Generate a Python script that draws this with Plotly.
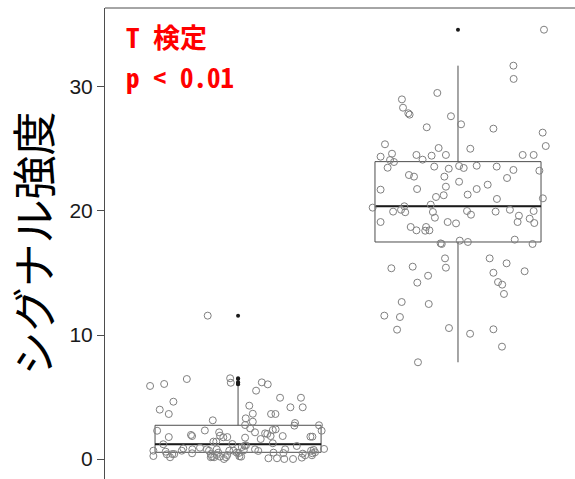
import plotly.graph_objects as go

# Two groups, positioned at x = 1 and x = 2
group_pos = [1, 2]

# Box statistics per group: q1, median, q3 and whisker ends
q1 = [0.54, 17.50]
median = [1.19, 20.38]
q3 = [2.72, 23.98]
whisker_low = [0.00, 7.80]
whisker_high = [5.89, 31.72]
box_width = 0.755

# Group 1 observations: signal value and horizontal jitter offset
g1_values = [
    5.89, 6.05, 6.45, 6.51, 6.15, 6.18, 6.02, 5.51, 4.62, 4.94, 4.94, 4.30, 3.98, 3.63,
    4.17, 4.17, 3.65, 3.63, 3.63, 3.12, 3.28, 3.01, 2.74, 2.90, 2.69, 2.72, 11.56,
    2.28, 2.30, 2.15, 1.88, 1.75, 1.77, 2.47, 2.15, 2.07, 2.02, 1.85, 2.34, 2.39, 1.61,
    1.85, 1.72, 1.80, 1.80, 2.28, 1.77, 1.94, 1.85, 1.40, 1.40, 1.21, 1.27, 1.19, 1.05,
    0.86, 0.67, 0.78, 0.46, 0.91, 0.78, 0.67, 0.40, 0.19, 0.14, 0.14, 0.32, 0.51, 0.78,
    0.19, 0.00, 0.14, 0.32, 0.67, 0.67, 0.24, 0.59, 0.38, 0.14, 0.40, 0.40, 0.67, 0.97,
    1.07, 1.10, 0.70, 0.22, 0.19, 0.48, 0.78, 0.65, 0.78, 0.51, 0.48, 0.67, 0.73, 0.54,
    0.46, 0.81, 0.06, 0.06, 0.00, 0.00, 0.11, 0.30, 0.43, 0.30, 0.51,
]
g1_jitter = [
    -0.400, -0.336, -0.233, -0.036, -0.033, 0.108, 0.135, 0.082, -0.294, 0.191, 0.286, 0.051, -0.356, -0.315,
    0.238, 0.294, 0.067, 0.150, 0.170, -0.115, 0.035, 0.067, 0.032, 0.259, 0.256, 0.368, -0.138,
    -0.368, -0.151, -0.086, -0.082, -0.067, -0.049, 0.055, 0.077, 0.123, 0.133, 0.148, 0.158, 0.171, 0.103,
    0.203, 0.032, 0.329, 0.338, 0.380, -0.315, -0.214, -0.209, -0.112, -0.099, -0.026, 0.158, -0.340, 0.267,
    -0.249, -0.256, -0.208, -0.209, -0.173, -0.142, -0.132, -0.124, -0.118, -0.124, -0.109, -0.097, -0.090, -0.097,
    -0.082, -0.064, -0.055, -0.049, -0.040, -0.385, -0.385, -0.329, -0.324, -0.309, -0.299, -0.290, -0.021, 0.017,
    0.030, 0.036, 0.026, 0.006, 0.014, 0.003, 0.077, 0.092, 0.214, 0.161, 0.206, 0.332, 0.344, 0.350,
    0.338, 0.391, 0.138, 0.177, 0.210, 0.250, 0.290, 0.305, 0.294, 0.336, -0.006,
]

# Group 2 observations
g2_values = [
    34.62, 31.72, 30.65, 29.52, 29.00, 28.33, 27.88, 27.77, 27.64, 26.99, 26.75, 26.64, 26.32,
    25.24, 25.38, 25.08, 25.02, 24.38, 24.62, 24.11, 23.95, 23.49, 24.52, 24.14, 24.46, 24.52,
    24.52, 24.52, 23.58, 23.41, 23.63, 23.47, 23.65, 23.58, 23.31, 23.25, 22.90, 22.77, 22.77,
    22.66, 22.36, 21.96, 22.12, 21.72, 21.77, 21.77, 21.13, 21.27, 21.32, 20.97, 21.02,
    20.27, 20.38, 20.10, 19.90, 19.95, 20.51, 19.92, 19.46, 20.00, 19.70, 19.95, 20.10, 19.62,
    20.00, 19.11, 19.11, 19.00, 19.11, 19.38, 19.03, 18.71, 18.44, 18.71, 18.41, 18.44, 17.39,
    17.34, 17.61, 17.50, 17.69, 17.34, 16.18, 16.18, 15.78, 15.38, 15.51, 15.43, 15.14, 15.02,
    14.78, 14.27, 14.06, 14.22, 13.31, 12.66, 12.50, 11.56, 11.45, 10.43, 10.56, 10.10, 10.46,
    9.06, 7.80,
]
g2_jitter = [
    0.391, 0.252, 0.253, -0.094, -0.255, -0.250, -0.226, -0.220, -0.032, 0.014, -0.142, 0.161, 0.385,
    0.399, -0.332, -0.088, 0.056, -0.352, -0.300, -0.309, -0.291, -0.320, -0.189, -0.161, -0.120, -0.055,
    0.294, 0.344, -0.108, -0.042, 0.005, 0.026, 0.085, 0.176, 0.252, 0.370, -0.223, -0.200, -0.062,
    0.223, 0.005, -0.055, 0.135, -0.352, -0.186, 0.085, -0.100, -0.065, 0.044, 0.177, 0.386,
    -0.388, -0.244, -0.259, -0.240, -0.295, -0.124, -0.114, -0.105, 0.041, 0.059, 0.171, 0.236, 0.277,
    0.344, -0.352, -0.047, -0.009, 0.271, 0.326, 0.347, -0.215, -0.189, -0.145, -0.149, -0.130, -0.079,
    -0.074, 0.008, 0.045, 0.258, 0.339, -0.059, 0.144, 0.221, -0.303, -0.206, -0.055, 0.303, 0.161,
    -0.136, 0.182, 0.201, -0.185, 0.209, -0.256, -0.133, -0.335, -0.264, -0.277, -0.041, 0.055, 0.161,
    0.200, -0.182,
]

y_ticks = [0, 10, 20, 30]
y_title = "シグナル強度"
test_lines = ["T 検定", "p &lt; 0.01"]

groups = [(g1_values, g1_jitter), (g2_values, g2_jitter)]

fig = go.Figure()

# Boxes from the precomputed statistics
fig.add_trace(go.Box(
    x=group_pos, q1=q1, median=median, q3=q3,
    lowerfence=whisker_low, upperfence=whisker_high,
    width=box_width, boxpoints=False,
    fillcolor="rgba(0,0,0,0)",
    line=dict(color="#4d4d4d", width=1),
    whiskerwidth=0, hoverinfo="skip", showlegend=False,
))

# Heavier median bars
for pos, med in zip(group_pos, median):
    fig.add_trace(go.Scatter(
        x=[pos - box_width / 2, pos + box_width / 2], y=[med, med],
        mode="lines", line=dict(color="#1a1a1a", width=2),
        hoverinfo="skip", showlegend=False,
    ))

# Outliers beyond the whiskers, drawn on the box centre line
for pos, (vals, _), lo, hi in zip(group_pos, groups, whisker_low, whisker_high):
    out = [v for v in vals if v > hi or v < lo]
    fig.add_trace(go.Scatter(
        x=[pos] * len(out), y=out, mode="markers",
        marker=dict(color="#1a1a1a", size=4),
        hoverinfo="skip", showlegend=False,
    ))

# Jittered raw observations
for pos, (vals, jit) in zip(group_pos, groups):
    fig.add_trace(go.Scatter(
        x=[pos + j for j in jit], y=vals, mode="markers",
        marker=dict(symbol="circle-open", size=7, color="#808080",
                    line=dict(width=1, color="#808080")),
        hoverinfo="skip", showlegend=False,
    ))

# Test result note, one annotation per line
note_font = dict(family="Noto Sans Mono CJK JP, Noto Sans CJK JP, monospace",
                 size=27, color="#ff0000", weight="bold")
note_y = [0.939, 0.854]
annotations = [
    dict(text=t, xref="paper", yref="paper", x=0.04, y=yy,
         xanchor="left", yanchor="middle", showarrow=False, font=note_font)
    for t, yy in zip(test_lines, note_y)
]

fig.update_layout(
    width=575, height=479,
    margin=dict(l=105, r=0, t=8, b=0),
    paper_bgcolor="white", plot_bgcolor="white",
    xaxis=dict(range=[0.395, 2.532], showticklabels=False, showgrid=False,
               zeroline=False, showline=False, ticks=""),
    yaxis=dict(range=[-1.613, 36.37], tickvals=y_ticks, ticks="outside",
               ticklen=7, tickcolor="#4d4d4d", tickwidth=1,
               showline=True, linecolor="#4d4d4d", linewidth=1,
               showgrid=False, zeroline=False,
               tickfont=dict(family="Liberation Sans, Arial", size=21, color="#1a1a1a"),
               title=dict(text=y_title, standoff=14,
                          font=dict(family="Noto Sans CJK JP", size=44, color="black"))),
    shapes=[dict(type="line", xref="paper", yref="paper", x0=0, x1=1, y0=1, y1=1,
                 line=dict(color="#4d4d4d", width=1))],
    annotations=annotations,
)

fig.write_html("out.html")
